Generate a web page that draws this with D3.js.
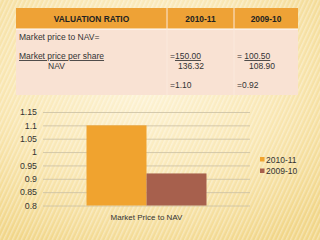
<!DOCTYPE html>
<html>
  <head>
    <meta charset="utf-8">
    <title>Valuation ratio</title>
    <script src="https://d3js.org/d3.v7.min.js"></script>
    <style>
      body { margin: 0; }
      svg { display: block; font-family: "Liberation Sans", Arial, sans-serif; }
    </style>
  </head>
  <body>
    <svg id="chart" width="320" height="240"></svg>
    <script>
      // data
      var headers = ["VALUATION RATIO", "2010-11", "2009-10"];
      var categories = ["Market Price to NAV"];
      var seriesNames = ["2010-11", "2009-10"];
      var seriesValues = [[1.10], [0.92]];
      var yTicks = [0.8, 0.85, 0.9, 0.95, 1, 1.05, 1.1, 1.15];
      var colours = ["#f0a32f", "#a7604d"];

      var svg = d3.select("#chart");
      var defs = svg.append("defs");

      // background: warm radial wash with faint diagonal stripes
      var grad = defs.append("radialGradient").attr("id", "bg")
        .attr("cx", "45%").attr("cy", "35%").attr("r", "75%");
      grad.append("stop").attr("offset", "0%").attr("stop-color", "#fdf3d6");
      grad.append("stop").attr("offset", "55%").attr("stop-color", "#f9e7b4");
      grad.append("stop").attr("offset", "100%").attr("stop-color", "#f1d689");
      var pat = defs.append("pattern").attr("id", "stripes")
        .attr("width", 4).attr("height", 4)
        .attr("patternUnits", "userSpaceOnUse")
        .attr("patternTransform", "rotate(25)");
      pat.append("rect").attr("width", 1.5).attr("height", 4)
        .attr("fill", "#ffffff").attr("opacity", 0.35);
      svg.append("rect").attr("width", 320).attr("height", 240).attr("fill", "url(#bg)");
      svg.append("rect").attr("width", 320).attr("height", 240).attr("fill", "url(#stripes)");

      // table
      var cols = [16, 167, 234, 298];
      var table = svg.append("g");
      table.append("rect").attr("x", cols[0]).attr("y", 8)
        .attr("width", cols[3] - cols[0]).attr("height", 21).attr("fill", "#eea236");
      table.append("rect").attr("x", cols[0]).attr("y", 29)
        .attr("width", cols[3] - cols[0]).attr("height", 66).attr("fill", "#f9e2d3");
      table.append("line").attr("x1", cols[0]).attr("x2", cols[3])
        .attr("y1", 29).attr("y2", 29).attr("stroke", "#fff").attr("stroke-width", 1.2);
      [cols[1], cols[2]].forEach(function(x) {
        table.append("line").attr("x1", x).attr("x2", x)
          .attr("y1", 8).attr("y2", 95).attr("stroke", "#fbe9dc").attr("stroke-width", 1);
      });
      table.selectAll(".head").data(headers).enter().append("text")
        .attr("x", function(d, i) { return (cols[i] + cols[i + 1]) / 2; })
        .attr("y", 21.5)
        .attr("text-anchor", "middle")
        .attr("font-size", 8.4).attr("font-weight", "bold").attr("fill", "#222")
        .text(function(d) { return d; });

      var cells = [
        { x: 19, y: 40, t: "Market price to NAV=" },
        { x: 19, y: 59, t: "Market price per share", u: true },
        { x: 48, y: 69, t: "NAV" },
        { x: 170, y: 59, pre: "=", t: "150.00", u: true },
        { x: 178, y: 69, t: "136.32" },
        { x: 170, y: 88, t: "=1.10" },
        { x: 237, y: 59, pre: "= ", t: "100.50", u: true },
        { x: 249, y: 69, t: "108.90" },
        { x: 237, y: 88, t: "=0.92" }
      ];
      cells.forEach(function(c) {
        var t = table.append("text").attr("x", c.x).attr("y", c.y)
          .attr("font-size", 8.5).attr("fill", "#333");
        if (c.pre) t.append("tspan").text(c.pre);
        t.append("tspan").attr("text-decoration", c.u ? "underline" : null).text(c.t);
      });

      // bar chart
      var margin = { top: 112, right: 70, bottom: 34.5, left: 43 };
      var x = d3.scaleBand().domain(categories)
        .range([margin.left, 320 - margin.right]).paddingInner(0).paddingOuter(0.3625);
      var xs = d3.scaleBand().domain(seriesNames).range([0, x.bandwidth()]);
      var y = d3.scaleLinear().domain([0.8, 1.15]).range([240 - margin.bottom, margin.top]);

      var yAxis = d3.axisLeft(y).tickValues(yTicks)
        .tickFormat(d3.format("~g"))
        .tickSize(margin.left + margin.right - 320).tickPadding(6);
      var yg = svg.append("g").attr("transform", "translate(" + margin.left + ",0)").call(yAxis);
      yg.select(".domain").remove();
      yg.selectAll(".tick line").attr("stroke", "#c9bfa3").attr("stroke-width", 0.8);
      yg.selectAll(".tick text").attr("font-size", 8.8).attr("fill", "#333")
        .attr("font-family", "Liberation Sans, Arial, sans-serif");

      var groups = svg.selectAll(".cat").data(categories).enter().append("g")
        .attr("transform", function(d) { return "translate(" + x(d) + ",0)"; });
      groups.selectAll("rect")
        .data(function(d, ci) { return seriesNames.map(function(s, si) { return { s: s, v: seriesValues[si][ci], i: si }; }); })
        .enter().append("rect")
        .attr("x", function(d) { return xs(d.s); })
        .attr("width", xs.bandwidth())
        .attr("y", function(d) { return y(d.v); })
        .attr("height", function(d) { return y(0.8) - y(d.v); })
        .attr("fill", function(d) { return colours[d.i]; });

      var xAxis = d3.axisBottom(x).tickSize(0).tickPadding(9);
      var xg = svg.append("g").attr("transform", "translate(0," + y(0.8) + ")").call(xAxis);
      xg.select(".domain").remove();
      xg.selectAll(".tick text").attr("font-size", 8).attr("fill", "#333")
        .attr("font-family", "Liberation Sans, Arial, sans-serif");

      // legend
      var legend = svg.selectAll(".legend").data(seriesNames).enter().append("g")
        .attr("transform", function(d, i) { return "translate(260," + (157 + i * 11.5) + ")"; });
      legend.append("rect").attr("width", 4.5).attr("height", 4.5)
        .attr("fill", function(d, i) { return colours[i]; });
      legend.append("text").attr("x", 6).attr("y", 5.5)
        .attr("font-size", 8.5).attr("fill", "#333")
        .text(function(d) { return d; });
    </script>
  </body>
</html>
